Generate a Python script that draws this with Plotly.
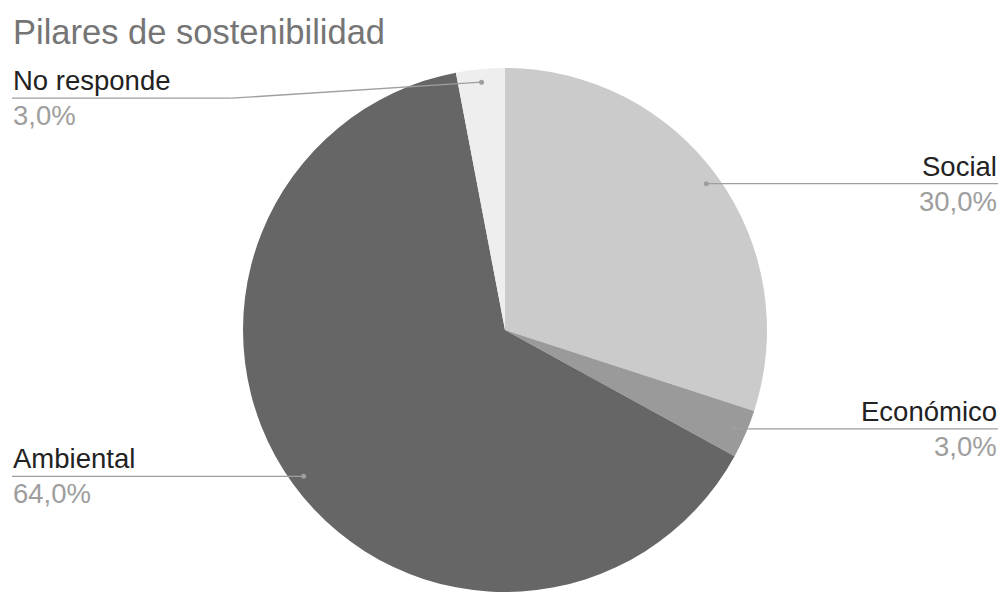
import math
import plotly.graph_objects as go

# Chart data
categories = ["Social", "Económico", "Ambiental", "No responde"]
values = [30.0, 3.0, 64.0, 3.0]
slice_colors = ["#cbcbcb", "#9a9a9a", "#666666", "#eeeeee"]

W, H = 1006, 592
# Pie geometry in pixels (centre and radius)
CX, R = 505, 262
CY = H - R

TEXT_FONT = "Liberation Sans, Arial, sans-serif"
LINE_COLOR = "#9e9e9e"


def px_x(x):
    return x / W


def px_y(y):
    return 1 - y / H


fig = go.Figure(
    go.Pie(
        labels=categories,
        values=values,
        sort=False,
        direction="clockwise",
        rotation=0,
        marker=dict(colors=slice_colors, line=dict(width=0)),
        textinfo="none",
        hoverinfo="label+percent",
        domain=dict(x=[px_x(CX - R), px_x(CX + R)], y=[0, (2 * R) / H]),
        showlegend=False,
    )
)

# Leader lines and labels, anchored at each slice's mid angle
total = sum(values)
label_y_shift = {"No responde": 15}   # pushed down to clear the title
shapes, annotations = [], []
cum = 0.0
for name, v in zip(categories, values):
    theta = 2 * math.pi * (cum + v / 2) / total
    cum += v
    dx = CX + 0.95 * R * math.sin(theta)
    dy = CY - 0.95 * R * math.cos(theta)
    right = math.sin(theta) > 0
    end_x = 998 if right else 12
    ly = dy + label_y_shift.get(name, 0) + 1
    bend_x = dx - 250 if name == "No responde" else dx
    if bend_x != dx:
        shapes.append(dict(type="line", xref="paper", yref="paper",
                           x0=px_x(dx), y0=px_y(dy), x1=px_x(bend_x), y1=px_y(ly),
                           line=dict(color=LINE_COLOR, width=1.3)))
    else:
        ly = dy
    shapes.append(dict(type="line", xref="paper", yref="paper",
                       x0=px_x(bend_x), y0=px_y(ly), x1=px_x(end_x), y1=px_y(ly),
                       line=dict(color=LINE_COLOR, width=1.3)))
    shapes.append(dict(type="circle", xref="paper", yref="paper",
                       x0=px_x(dx - 2.5), x1=px_x(dx + 2.5),
                       y0=px_y(dy - 2.5), y1=px_y(dy + 2.5),
                       fillcolor=LINE_COLOR, line=dict(width=0)))
    anchor = "right" if right else "left"
    pct = f"{v / total * 100:.1f}".replace(".", ",") + "%"
    annotations.append(dict(text=name, xref="paper", yref="paper",
                            x=px_x(end_x), y=px_y(ly - 1), xanchor=anchor, yanchor="bottom",
                            showarrow=False, borderpad=0,
                            font=dict(family=TEXT_FONT, size=27.5, color="#222222")))
    annotations.append(dict(text=pct, xref="paper", yref="paper",
                            x=px_x(end_x), y=px_y(ly + 1), xanchor=anchor, yanchor="top",
                            showarrow=False, borderpad=0,
                            font=dict(family=TEXT_FONT, size=27.5, color="#9e9e9e")))

fig.update_layout(
    width=W,
    height=H,
    margin=dict(l=0, r=0, t=0, b=0),
    paper_bgcolor="white",
    plot_bgcolor="white",
    title=dict(text="Pilares de sostenibilidad", x=px_x(13), xanchor="left",
               y=px_y(32), yanchor="middle",
               font=dict(family=TEXT_FONT, size=34.5, color="#757575")),
    shapes=shapes,
    annotations=annotations,
)

fig.write_html("out.html")
